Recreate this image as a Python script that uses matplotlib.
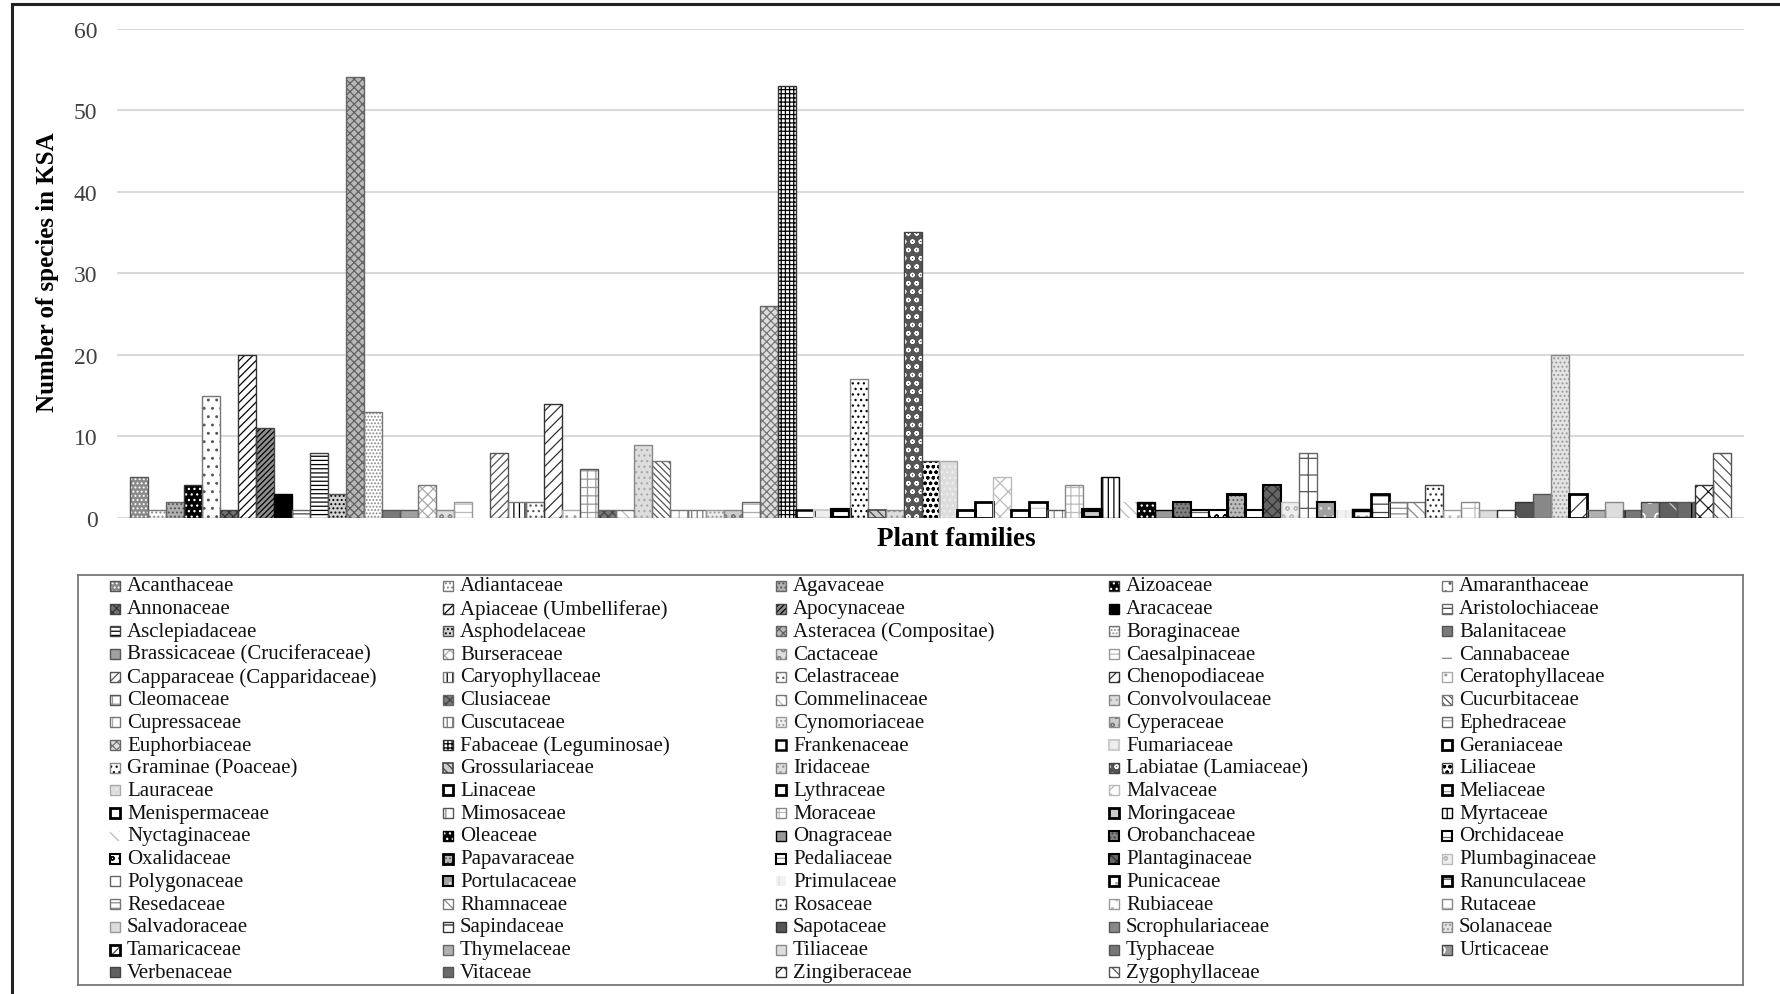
import matplotlib
matplotlib.use("Agg")
import matplotlib.pyplot as plt
from matplotlib.patches import Rectangle
import numpy as np

plt.rcParams['font.family'] = ['Liberation Serif', 'DejaVu Serif']
plt.rcParams['hatch.linewidth'] = 0.9

families = [
    "Acanthaceae", "Adiantaceae", "Agavaceae", "Aizoaceae", "Amaranthaceae",
    "Annonaceae", "Apiaceae (Umbelliferae)", "Apocynaceae", "Aracaceae", "Aristolochiaceae",
    "Asclepiadaceae", "Asphodelaceae", "Asteracea (Compositae)", "Boraginaceae", "Balanitaceae",
    "Brassicaceae (Cruciferaceae)", "Burseraceae", "Cactaceae", "Caesalpinaceae", "Cannabaceae",
    "Capparaceae (Capparidaceae)", "Caryophyllaceae", "Celastraceae", "Chenopodiaceae", "Ceratophyllaceae",
    "Cleomaceae", "Clusiaceae", "Commelinaceae", "Convolvoulaceae", "Cucurbitaceae",
    "Cupressaceae", "Cuscutaceae", "Cynomoriaceae", "Cyperaceae", "Ephedraceae",
    "Euphorbiaceae", "Fabaceae (Leguminosae)", "Frankenaceae", "Fumariaceae", "Geraniaceae",
    "Graminae (Poaceae)", "Grossulariaceae", "Iridaceae", "Labiatae (Lamiaceae)", "Liliaceae",
    "Lauraceae", "Linaceae", "Lythraceae", "Malvaceae", "Meliaceae",
    "Menispermaceae", "Mimosaceae", "Moraceae", "Moringaceae", "Myrtaceae",
    "Nyctaginaceae", "Oleaceae", "Onagraceae", "Orobanchaceae", "Orchidaceae",
    "Oxalidaceae", "Papavaraceae", "Pedaliaceae", "Plantaginaceae", "Plumbaginaceae",
    "Polygonaceae", "Portulacaceae", "Primulaceae", "Punicaceae", "Ranunculaceae",
    "Resedaceae", "Rhamnaceae", "Rosaceae", "Rubiaceae", "Rutaceae",
    "Salvadoraceae", "Sapindaceae", "Sapotaceae", "Scrophulariaceae", "Solanaceae",
    "Tamaricaceae", "Thymelaceae", "Tiliaceae", "Typhaceae", "Urticaceae",
    "Verbenaceae", "Vitaceae", "Zingiberaceae", "Zygophyllaceae",
]

species = [
    5, 1, 2, 4, 15,
    1, 20, 11, 3, 1,
    8, 3, 54, 13, 1,
    1, 4, 1, 2, 1,
    8, 2, 2, 14, 1,
    6, 1, 1, 9, 7,
    1, 1, 1, 1, 2,
    26, 53, 1, 1, 1,
    17, 1, 1, 35, 7,
    7, 1, 2, 5, 1,
    2, 1, 4, 1, 5,
    2, 2, 1, 2, 1,
    1, 3, 1, 4, 2,
    8, 2, 1, 1, 3,
    2, 2, 4, 1, 2,
    1, 1, 2, 3, 20,
    3, 1, 2, 1, 2,
    2, 2, 4, 8,
]

yticks = [0, 10, 20, 30, 40, 50, 60]

# fill, hatch, hatch colour, border colour, border width
styles = [
    ("#8a8a8a", "....", "white", "#555555", 1.0),
    ("white", "....", "#888888", "#777777", 1.0),
    ("#b0b0b0", "....", "#555555", "#666666", 1.0),
    ("black", "...", "white", "#333333", 1.0),
    ("white", "..", "#555555", "#777777", 1.0),
    ("#707070", "xxxx", "#333333", "#444444", 1.0),
    ("white", "////", "black", "#333333", 1.0),
    ("#909090", "//////", "black", "#444444", 1.0),
    ("black", "", "black", "black", 1.0),
    ("white", "---", "#444444", "#666666", 1.0),
    ("white", "----", "black", "#444444", 1.0),
    ("#d0d0d0", "....", "black", "#555555", 1.0),
    ("#b8b8b8", "xxxx", "#606060", "#666666", 1.0),
    ("white", ".....", "#8a8a8a", "#777777", 1.0),
    ("#7a7a7a", "", "#7a7a7a", "#555555", 1.0),
    ("#a0a0a0", "", "#a0a0a0", "#555555", 1.0),
    ("white", "xxx", "#aaaaaa", "#777777", 1.0),
    ("#dddddd", "oo", "#888888", "#888888", 1.0),
    ("white", "--", "#bbbbbb", "#999999", 1.0),
    ("white", "-", "#888888", "none", 0.0),
    ("white", "////", "#555555", "#555555", 1.0),
    ("white", "|||", "black", "#777777", 1.0),
    ("white", "...", "#555555", "#777777", 1.0),
    ("white", "///", "#333333", "#333333", 1.0),
    ("white", "..", "#999999", "#aaaaaa", 1.0),
    ("white", "++", "#999999", "#555555", 1.0),
    ("#7a7a7a", "xxxx", "#444444", "#666666", 1.0),
    ("white", "\\\\\\", "#bbbbbb", "#777777", 1.0),
    ("#dddddd", "...", "#aaaaaa", "#888888", 1.0),
    ("white", "\\\\\\\\\\", "#555555", "#777777", 1.0),
    ("white", "||", "#aaaaaa", "#777777", 1.0),
    ("white", "|||", "#777777", "#777777", 1.0),
    ("#eeeeee", "....", "#999999", "#999999", 1.0),
    ("#cccccc", "oo", "#777777", "#888888", 1.0),
    ("white", "--", "#aaaaaa", "#666666", 1.0),
    ("#dddddd", "xxxx", "#777777", "#666666", 1.0),
    ("white", "++++", "black", "#333333", 1.0),
    ("white", "", "white", "black", 1.8),
    ("#eeeeee", "", "#eeeeee", "#cccccc", 1.5),
    ("white", "", "white", "black", 3.0),
    ("white", "...", "black", "#888888", 1.0),
    ("#cccccc", "\\\\\\\\", "#444444", "#444444", 1.2),
    ("#dddddd", "...", "#999999", "#888888", 1.0),
    ("#555555", "oo", "white", "#444444", 1.0),
    ("white", "ooo", "black", "#444444", 1.0),
    ("#dddddd", "...", "#f0f0f0", "#aaaaaa", 1.0),
    ("white", "", "white", "black", 2.0),
    ("white", "", "white", "black", 2.0),
    ("white", "xx", "#bbbbbb", "#bbbbbb", 1.0),
    ("white", "-", "#999999", "black", 2.0),
    ("white", "-", "#cccccc", "black", 2.0),
    ("white", "||", "#888888", "#555555", 1.0),
    ("white", "++", "#bbbbbb", "#888888", 1.0),
    ("#cccccc", "", "#cccccc", "black", 3.0),
    ("white", "|||", "black", "black", 1.0),
    ("white", "\\\\\\", "#bbbbbb", "none", 0.0),
    ("black", "...", "white", "black", 1.0),
    ("#999999", "", "#999999", "black", 1.0),
    ("#808080", "....", "#444444", "black", 1.5),
    ("white", "--", "#666666", "black", 1.5),
    ("white", "oo", "black", "black", 1.5),
    ("#bbbbbb", "....", "#666666", "black", 2.2),
    ("white", "-", "#999999", "black", 1.5),
    ("#666666", "xxx", "#333333", "black", 1.5),
    ("#eeeeee", "oo", "#bbbbbb", "#bbbbbb", 1.0),
    ("white", "+", "#555555", "#666666", 1.0),
    ("#a0a0a0", "..", "#dddddd", "black", 1.5),
    ("#f2f2f2", "||", "#dddddd", "none", 0.0),
    ("white", "..", "#aaaaaa", "black", 2.5),
    ("white", "--", "#444444", "black", 2.0),
    ("white", "---", "#888888", "#777777", 1.0),
    ("white", "\\\\\\", "#888888", "#777777", 1.0),
    ("white", "...", "#333333", "#444444", 1.0),
    ("white", "..", "#bbbbbb", "#999999", 1.0),
    ("white", "+", "#bbbbbb", "#888888", 1.0),
    ("#dddddd", "", "#dddddd", "#999999", 1.0),
    ("white", "-", "#222222", "#333333", 1.0),
    ("#555555", "\\", "white", "#333333", 1.0),
    ("#888888", "", "#888888", "#555555", 1.0),
    ("#e4e4e4", "....", "#999999", "#888888", 1.0),
    ("white", "//", "#444444", "black", 2.0),
    ("#b0b0b0", "", "#b0b0b0", "#666666", 1.0),
    ("#dddddd", "", "#dddddd", "#888888", 1.0),
    ("#777777", "|", "black", "#555555", 1.0),
    ("#999999", "o", "white", "#444444", 1.0),
    ("#606060", "\\", "#cccccc", "#444444", 1.0),
    ("#6a6a6a", "|", "black", "#555555", 1.0),
    ("white", "xx", "#222222", "#333333", 1.0),
    ("white", "\\\\\\", "#555555", "#555555", 1.0),
]

W, H = 1780, 995
fig = plt.figure(figsize=(W / 100, H / 100), dpi=100)

# outer chart frame
fig.patches.append(Rectangle((12 / W, -0.05), 1.2, 1 - 5 / H + 0.05,
                             transform=fig.transFigure, fill=False,
                             edgecolor="#222222", linewidth=2.2))

ax = fig.add_axes([117 / W, 1 - 519 / H, (1744 - 117) / W, (519 - 29.5) / H])
x = np.arange(len(species))
for i, (val, st) in enumerate(zip(species, styles)):
    face, hatch, hcol, edge, lw = st
    ax.bar(x[i], val, width=1.0, color=face, hatch=hatch or None,
           edgecolor=hcol, linewidth=0, zorder=2)
    if lw > 0:
        ax.bar(x[i], val, width=1.0, fill=False, edgecolor=edge,
               linewidth=lw, zorder=3)

ax.set_xlim(-1.22, len(species) - 1 + 1.22)
ax.set_ylim(0, 60)
ax.set_yticks(yticks)
ax.set_xticks([])
ax.yaxis.grid(True, color="#d9d9d9", linewidth=1.5)
ax.set_axisbelow(True)
for s in ax.spines.values():
    s.set_visible(False)
ax.tick_params(axis="y", length=0, pad=14, labelsize=17, labelcolor="#404040")

fig.text(48 / W, 1 - 272 / H, "Number of species in KSA", rotation=90,
         ha="center", va="center", fontsize=18, fontweight="bold")
fig.text(956 / W, 1 - 540 / H, "Plant families", ha="center", va="center",
         fontsize=19.5, fontweight="bold")

# legend block, five columns filled row by row
lx0, ly0, lx1, ly1 = 78, 576, 1743, 986
lax = fig.add_axes([lx0 / W, 1 - ly1 / H, (lx1 - lx0) / W, (ly1 - ly0) / H])
lax.set_xlim(0, lx1 - lx0)
lax.set_ylim(ly1 - ly0, 0)
lax.set_xticks([])
lax.set_yticks([])
for s in lax.spines.values():
    s.set_edgecolor("#777777")
    s.set_linewidth(1.3)

ncol = 5
col_w = 333
row_h = 22.72
first_x = 32
first_y = 11
box = 10
for i, (name, st) in enumerate(zip(families, styles)):
    face, hatch, hcol, edge, lw = st
    r, c = divmod(i, ncol)
    cx = first_x + c * col_w
    cy = first_y + r * row_h
    lax.add_patch(Rectangle((cx, cy - box / 2), box, box, facecolor=face,
                            hatch=hatch or None, edgecolor=hcol, linewidth=0))
    lax.add_patch(Rectangle((cx, cy - box / 2), box, box, fill=False,
                            edgecolor=edge if lw > 0 else "none",
                            linewidth=min(lw, 2.0)))
    lax.text(cx + 17, cy, name, ha="left", va="center", fontsize=15,
             color="#111111")

fig.savefig("out.png", dpi=100, facecolor="white")
